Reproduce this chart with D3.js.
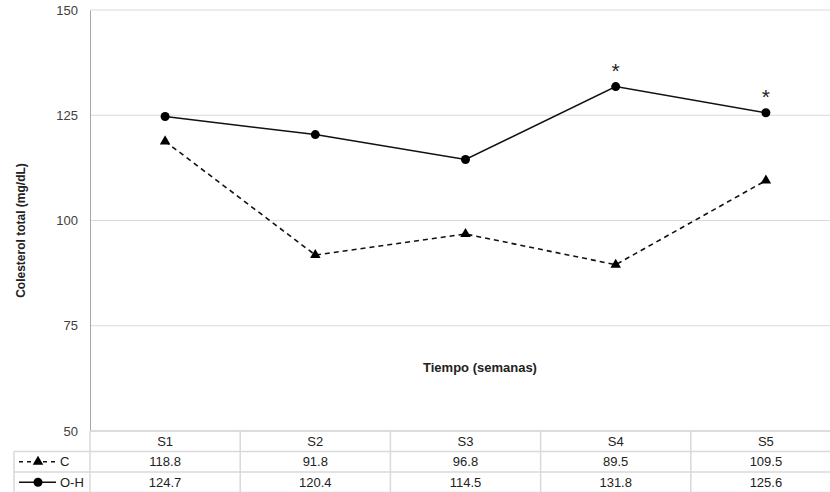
<!DOCTYPE html>
<html>
<head>
<meta charset="utf-8">
<script src="https://cdn.jsdelivr.net/npm/d3@7"></script>
<style>
  body { margin: 0; background: #fff; }
  svg { display: block; font-family: "Liberation Sans", Arial, sans-serif; }
</style>
</head>
<body>
<div id="chart"></div>
<script>
// Colesterol total por semana, grupos C y O-H
const weeks = ["S1", "S2", "S3", "S4", "S5"];
const valuesC = [118.8, 91.8, 96.8, 89.5, 109.5];
const valuesOH = [124.7, 120.4, 114.5, 131.8, 125.6];
const significant = ["S4", "S5"];  // marked with *
const yTicks = [50, 75, 100, 125, 150];

const W = 830, H = 492;
const plotL = 90, plotR = 841, plotT = 10, plotB = 431;
const rowH = 20.5;
const tableLeft = 14;

const svg = d3.select("#chart").append("svg")
  .attr("width", W).attr("height", H)
  .style("overflow", "hidden");

const x = d3.scaleBand().domain(weeks).range([plotL, plotR]);
const y = d3.scaleLinear().domain([50, 150]).range([plotB, plotT]);
const cx = d => x(d) + x.bandwidth() / 2;

const gridColor = "#d9d9d9";

// gridlines
svg.append("g")
  .selectAll("line")
  .data(yTicks)
  .join("line")
  .attr("x1", plotL).attr("x2", plotR)
  .attr("y1", d => y(d)).attr("y2", d => y(d))
  .attr("stroke", gridColor).attr("stroke-width", 1);

// y axis labels
const yAxis = svg.append("g")
  .attr("transform", `translate(${plotL},0)`)
  .call(d3.axisLeft(y).tickValues(yTicks).tickSize(0).tickPadding(12));
yAxis.select(".domain").attr("stroke", "#a6a6a6");
yAxis.selectAll("text").attr("font-size", 13).attr("fill", "#404040")
  .attr("font-family", "Liberation Sans, Arial, sans-serif");

// axis titles
svg.append("text")
  .attr("transform", `translate(25,${(plotT + plotB) / 2 + 10}) rotate(-90)`)
  .attr("text-anchor", "middle")
  .attr("font-size", 12).attr("font-weight", "bold").attr("fill", "#222")
  .text("Colesterol total (mg/dL)");

svg.append("text")
  .attr("x", 480).attr("y", 372)
  .attr("text-anchor", "middle")
  .attr("font-size", 13).attr("font-weight", "bold").attr("fill", "#222")
  .text("Tiempo (semanas)");

// lines
const lineGen = d3.line().x((d, i) => cx(weeks[i])).y(d => y(d));
svg.append("path")
  .datum(valuesC)
  .attr("d", lineGen)
  .attr("fill", "none").attr("stroke", "#111")
  .attr("stroke-width", 1.6).attr("stroke-dasharray", "5,4");

svg.append("path")
  .datum(valuesOH)
  .attr("d", lineGen)
  .attr("fill", "none").attr("stroke", "#111")
  .attr("stroke-width", 1.5);

const tri = d3.symbol().type(d3.symbolTriangle).size(48);
svg.append("g")
  .selectAll("path")
  .data(valuesC)
  .join("path")
  .attr("d", tri)
  .attr("transform", (d, i) => `translate(${cx(weeks[i])},${y(d)})`)
  .attr("fill", "#000");

svg.append("g")
  .selectAll("circle")
  .data(valuesOH)
  .join("circle")
  .attr("cx", (d, i) => cx(weeks[i]))
  .attr("cy", d => y(d))
  .attr("r", 4.5)
  .attr("fill", "#000");

// asterisks
svg.append("g")
  .selectAll("text")
  .data(significant)
  .join("text")
  .attr("x", d => cx(d))
  .attr("y", d => y(valuesOH[weeks.indexOf(d)]) - 9)
  .attr("text-anchor", "middle")
  .attr("font-size", 21).attr("fill", "#222")
  .text("*");

// data table
const tbl = svg.append("g");
const rows = [
  { key: "C", values: valuesC, dashed: true },
  { key: "O-H", values: valuesOH, dashed: false }
];
const rowTop = i => plotB + rowH * i;

// horizontal lines
tbl.append("line").attr("x1", plotL).attr("x2", plotR)
  .attr("y1", rowTop(0)).attr("y2", rowTop(0)).attr("stroke", gridColor).attr("stroke-width", 1.5);
[1, 2, 3].forEach(i => {
  tbl.append("line").attr("x1", tableLeft).attr("x2", plotR)
    .attr("y1", rowTop(i)).attr("y2", rowTop(i)).attr("stroke", gridColor).attr("stroke-width", 1.5);
});
// vertical lines
weeks.forEach(w => {
  tbl.append("line").attr("x1", x(w)).attr("x2", x(w))
    .attr("y1", rowTop(0)).attr("y2", rowTop(3)).attr("stroke", gridColor).attr("stroke-width", 1.5);
});
tbl.append("line").attr("x1", tableLeft).attr("x2", tableLeft)
  .attr("y1", rowTop(1)).attr("y2", rowTop(3)).attr("stroke", gridColor).attr("stroke-width", 1.5);

// header
tbl.selectAll("text.head")
  .data(weeks)
  .join("text")
  .attr("class", "head")
  .attr("x", d => cx(d)).attr("y", rowTop(0) + rowH / 2 + 4.5)
  .attr("text-anchor", "middle").attr("font-size", 13).attr("fill", "#222")
  .text(d => d);

rows.forEach((r, ri) => {
  const yc = rowTop(ri + 1) + rowH / 2;
  tbl.selectAll(`text.v${ri}`)
    .data(r.values)
    .join("text")
    .attr("class", `v${ri}`)
    .attr("x", (d, i) => cx(weeks[i])).attr("y", yc + 4.5)
    .attr("text-anchor", "middle").attr("font-size", 13).attr("fill", "#222")
    .text(d => d.toFixed(1));

  // legend key
  tbl.append("line")
    .attr("x1", 19).attr("x2", 56).attr("y1", yc).attr("y2", yc)
    .attr("stroke", "#111").attr("stroke-width", 1.5)
    .attr("stroke-dasharray", r.dashed ? "4,4" : null);
  if (r.dashed) {
    tbl.append("path").attr("d", tri).attr("transform", `translate(38,${yc})`).attr("fill", "#000");
  } else {
    tbl.append("circle").attr("cx", 38).attr("cy", yc).attr("r", 4.5).attr("fill", "#000");
  }
  tbl.append("text")
    .attr("x", 60).attr("y", yc + 4.5)
    .attr("font-size", 13).attr("fill", "#222")
    .text(r.key);
});
</script>
</body>
</html>
